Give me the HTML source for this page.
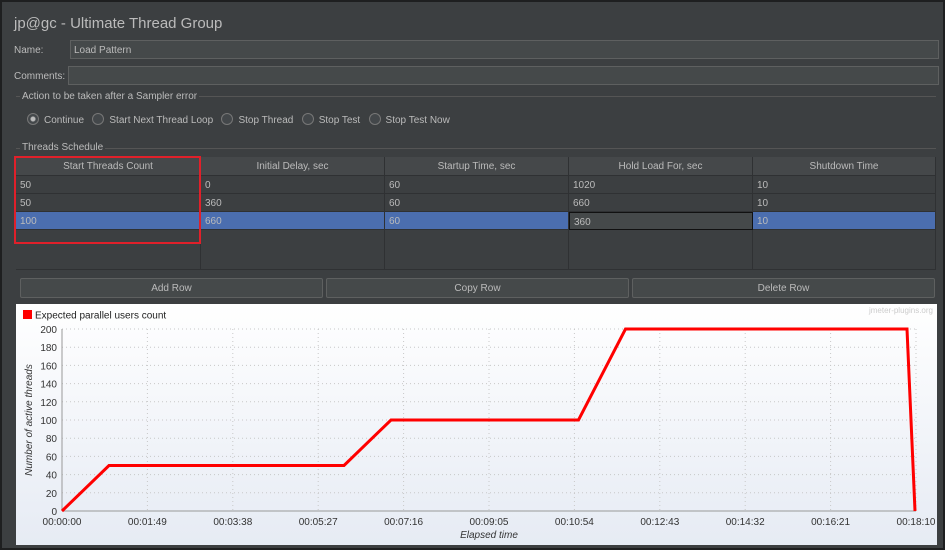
<!DOCTYPE html><html><head><style>
body{margin:0;width:945px;height:550px;overflow:hidden;background:#1e1f20;font-family:"Liberation Sans",sans-serif;}
#f{position:absolute;left:2px;top:2px;width:941px;height:546px;background:#3c3f41;}
.t{position:absolute;color:#bbbbbb;font-size:10px;white-space:nowrap}
.fld{position:absolute;background:#45494a;border:1px solid #5e6060;}
.cell{position:absolute;color:#bbb;font-size:10px;line-height:19px;padding-left:4px;box-sizing:border-box;border-right:1px solid #2f3133;border-bottom:1px solid #2f3133}
.hd{background:#45484a;text-align:center;padding:0}
.btn{position:absolute;top:278px;height:18px;background:#45494a;border:1px solid #5e6060;border-radius:2px;color:#bbb;font-size:10px;text-align:center;line-height:20px}
.rad{display:inline-block;width:10px;height:10px;border:1px solid #777;border-radius:50%;vertical-align:-2px;margin-right:5px;background:#43474a}
</style></head><body><div id="f"></div>
<div class="t" style="left:14px;top:15px;font-size:15px">jp@gc - Ultimate Thread Group</div>
<div class="t" style="left:14px;top:45px">Name:</div>
<div class="fld" style="left:70px;top:40px;width:867px;height:17px"></div>
<div class="t" style="left:74px;top:45px">Load Pattern</div>
<div class="t" style="left:14px;top:71px">Comments:</div>
<div class="fld" style="left:68px;top:66px;width:869px;height:17px"></div>
<div style="position:absolute;left:16px;top:96px;width:920px;border-top:1px solid #555"></div>
<div class="t" style="left:20px;top:91px;background:#3c3f41;padding:0 2px">Action to be taken after a Sampler error</div>
<div class="t" style="left:27px;top:113px"><span class="rad" style="background:radial-gradient(#bbb 2px,#43474a 3px)"></span>Continue &nbsp; <span class="rad"></span>Start Next Thread Loop &nbsp; <span class="rad"></span>Stop Thread &nbsp; <span class="rad"></span>Stop Test &nbsp; <span class="rad"></span>Stop Test Now</div>
<div style="position:absolute;left:16px;top:148px;width:920px;border-top:1px solid #555"></div>
<div class="t" style="left:20px;top:142px;background:#3c3f41;padding:0 2px">Threads Schedule</div>
<div style="position:absolute;left:16px;top:157px;width:920px;height:114px;background:#3c3f41"></div>
<div id="tb"></div>
<div style="position:absolute;left:14px;top:156px;width:183px;height:84px;border:2px solid #e0202a"></div>
<div class="btn" style="left:20px;width:301px">Add Row</div>
<div class="btn" style="left:326px;width:301px">Copy Row</div>
<div class="btn" style="left:632px;width:301px">Delete Row</div>
<svg style="position:absolute;left:0;top:0" width="945" height="550">
<defs><linearGradient id="g" x1="0" y1="0" x2="0" y2="1"><stop offset="0" stop-color="#ffffff"/><stop offset="1" stop-color="#e6ebf4"/></linearGradient></defs>
<rect x="16" y="304" width="921" height="241" fill="url(#g)"/>
<rect x="23" y="310" width="9" height="9" fill="#f00"/>
<text x="35" y="318.5" font-size="10" fill="#222" font-family="Liberation Sans">Expected parallel users count</text>
<text x="933" y="313" font-size="8" fill="#ccc" text-anchor="end" font-family="Liberation Sans">jmeter-plugins.org</text>
<g id="grid" stroke="#c8c8c8" stroke-dasharray="1,3" stroke-width="1"></g>
<line x1="62" y1="329" x2="62" y2="511" stroke="#999"/><line x1="62" y1="511" x2="916" y2="511" stroke="#999"/>
<g id="lab" font-family="Liberation Sans" font-size="10" fill="#333"></g>
<text transform="translate(32,420) rotate(-90)" text-anchor="middle" font-size="10" font-style="italic" fill="#333" font-family="Liberation Sans">Number of active threads</text>
<text x="489" y="538" text-anchor="middle" font-size="10" font-style="italic" fill="#333" font-family="Liberation Sans">Elapsed time</text>
<polyline points="62,511 109,465.5 344,465.5 391,420 578.5,420 625.5,329 907,329 915,511" fill="none" stroke="#f00" stroke-width="3"/>
</svg>
<script>
var tb=document.getElementById('tb'),cols=[16,201,385,569,753,936],h=["Start Threads Count","Initial Delay, sec","Startup Time, sec","Hold Load For, sec","Shutdown Time"],d=[["50","0","60","1020","10"],["50","360","60","660","10"],["100","660","60","360","10"]],s='';
for(var c=0;c<5;c++){var l=cols[c],w=cols[c+1]-cols[c];s+='<div class="cell hd" style="left:'+l+'px;top:157px;width:'+w+'px;height:19px">'+h[c]+'</div>';
for(var r=0;r<3;r++){var bg=r==2?'#4b6eaf':'#3c3f41';var ex='';if(r==2&&c==3){bg='#45494a';ex='border:1px solid #111;';}
s+='<div class="cell" style="left:'+l+'px;top:'+(176+r*18)+'px;width:'+w+'px;height:18px;background:'+bg+';'+ex+'">'+d[r][c]+'</div>';}
s+='<div class="cell" style="left:'+l+'px;top:230px;width:'+w+'px;height:40px"></div>';}
tb.innerHTML=s;
var g=document.getElementById('grid'),lb=document.getElementById('lab'),gs='',ls='';
var tl=["00:00:00","00:01:49","00:03:38","00:05:27","00:07:16","00:09:05","00:10:54","00:12:43","00:14:32","00:16:21","00:18:10"];
for(var i=0;i<=10;i++){var y=511-i*18.2;gs+='<line x1="62" x2="916" y1="'+y+'" y2="'+y+'"/>';ls+='<text x="57" y="'+(y+4)+'" text-anchor="end">'+(i*20)+'</text>';
var x=62+i*85.4;gs+='<line y1="329" y2="511" x1="'+x+'" x2="'+x+'"/>';ls+='<text x="'+x+'" y="525" text-anchor="middle">'+tl[i]+'</text>';}
g.innerHTML=gs;lb.innerHTML=ls;
</script></body></html>
